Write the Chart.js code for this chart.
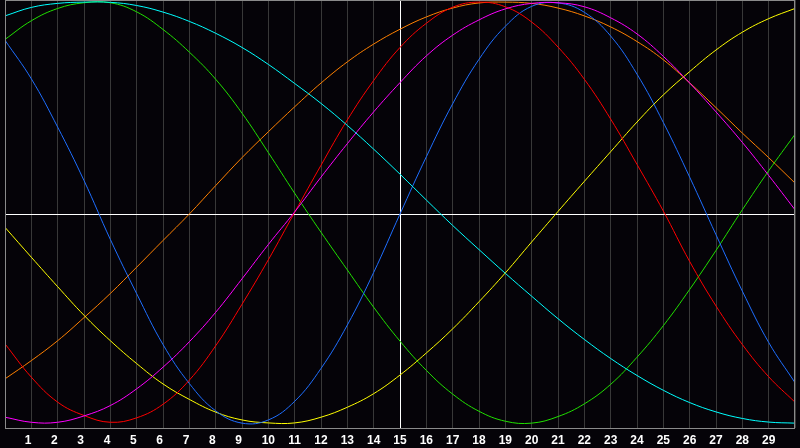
<!DOCTYPE html>
<html>
<head>
<meta charset="utf-8">
<script src="https://cdn.jsdelivr.net/npm/chart.js@4"></script>
<style>
    html, body { margin: 0; padding: 0; background: #050308; }
    #chart { display: block; }
</style>
</head>
<body>
<canvas id="chart" width="800" height="448"></canvas>
<script>
// ──────────────────────────────────────────────
// Данные (значения в %, день 0..30)
// ──────────────────────────────────────────────
const days = [0,1,2,3,4,5,6,7,8,9,10,11,12,13,14,15,16,17,18,19,20,21,22,23,24,25,26,27,28,29,30];

const physical     = [82.0, 63.8, 41.0, 15.8, -12.0, -37.6, -61.6, -80.0, -92.9, -98.7, -97.2, -88.4, -72.9, -52.4, -27.6, 0,
                      27.0, 52.0, 73.0, 88.6, 98.0, 99.6, 95.2, 84.0, 66.0, 43.2, 17.4, -9.8, -36.4, -60.6, -79.6];
const emotional    = [-61.3, -77.0, -88.8, -95.1, -98.3, -96.2, -89.8, -78.4, -62.2, -42.6, -21.6, 0.8, 23.0, 44.4, 63.0, 78.6,
                      90.0, 97.6, 100, 97.8, 90.6, 78.8, 63.6, 44.8, 23.4, 1.4, -22.4, -43.4, -61.6, -76.8, -88.8];
const intellectual = [82.4, 91.2, 97.0, 99.7, 99.7, 95.4, 87.1, 76.4, 63.6, 47.6, 29.0, 9.8, -8.6, -26.4, -44.0, -60.0,
                      -73.8, -85.0, -93.1, -97.8, -98.7, -95.6, -89.6, -80.4, -67.6, -52.7, -35.6, -17.2, 2.0, 20.4, 37.6];
const intuitive    = [-95.9, -98.3, -98.3, -95.3, -90.4, -82.5, -72.3, -60.3, -46.4, -30.6, -14.4, 1.0, 17.4, 33.2, 48.2, 62.0,
                      74.6, 84.4, 91.6, 96.8, 99.4, 99.7, 97.8, 92.6, 85.0, 74.4, 61.8, 48.2, 33.8, 18.2, 2.0];
const awareness    = [-77.8, -69.2, -59.8, -48.9, -37.5, -25.1, -12.5, 0, 13.4, 26.6, 38.8, 50.6, 61.8, 71.8, 80.2, 87.2,
                      93.0, 97.2, 99.6, 100, 99.4, 97.2, 93.5, 88.3, 81.4, 72.8, 61.9, 50.2, 38.2, 26.6, 14.6];
const aesthetic    = [-6.3, -20.4, -34.3, -47.8, -59.8, -70.6, -80.2, -87.5, -93.5, -97.2, -98.6, -98.6, -95.9, -91.2, -84.8, -76.0,
                      -65.6, -54.2, -41.4, -27.8, -13.2, 1.2, 15.4, 29.4, 43.4, 56.2, 67.2, 77.4, 85.8, 92.2, 97.0];
const spiritual    = [93.5, 97.5, 99.4, 100, 99.9, 98.4, 95.3, 90.9, 85.3, 78.6, 70.6, 61.6, 52.2, 41.8, 30.6, 18.8,
                      6.6, -5.4, -16.8, -28.0, -38.8, -49.4, -59.2, -68.2, -76.2, -83.2, -89.0, -93.4, -96.5, -98.2, -98.7];

const dayLabels = ['', '1','2','3','4','5','6','7','8','9','10','11','12','13','14','15',
                   '16','17','18','19','20','21','22','23','24','25','26','27','28','29', ''];

const seriesNames  = ['Духовный', 'Интуитивный', 'Эмоциональный', 'Физический', 'Эстетический', 'Интеллектуальный', 'Осознанность'];
const seriesData   = [spiritual, intuitive, emotional, physical, aesthetic, intellectual, awareness];
const seriesColors = ['#00ffff', '#ff00ff', '#ff0000', '#1e6eff', '#ffff00', '#20e000', '#ff8000'];

// ──────────────────────────────────────────────
// Фон и рамка
// ──────────────────────────────────────────────
const backdrop = {
    id: 'backdrop',
    beforeDraw(chart) {
        const c = chart.ctx;
        c.save();
        c.fillStyle = '#050308';
        c.fillRect(0, 0, chart.width, chart.height);
        c.restore();
    },
    afterDraw(chart) {
        const a = chart.chartArea, c = chart.ctx;
        c.save();
        c.strokeStyle = '#8a8a8a';
        c.lineWidth = 1;
        c.strokeRect(a.left + 0.5, a.top + 0.5, a.right - a.left - 1, a.bottom - a.top);
        c.restore();
    }
};

// подписи выровнены как в двухсимвольном поле (однозначные чуть левее)
function dayLabel(v) {
    const s = dayLabels[v] || '';
    return s.length === 1 ? s + '  ' : s;
}

// ──────────────────────────────────────────────
// График
// ──────────────────────────────────────────────
new Chart(document.getElementById('chart'), {
    type: 'line',
    data: {
        datasets: seriesData.map((d, i) => ({
            label: seriesNames[i],
            data: d.map((v, k) => ({ x: days[k], y: v })),
            borderColor: seriesColors[i],
            borderWidth: 1,
            pointRadius: 0,
            tension: 0.4,
            fill: false
        }))
    },
    options: {
        responsive: false,
        animation: false,
        layout: { padding: 0 },
        plugins: { legend: { display: false }, tooltip: { enabled: false } },
        scales: {
            x: {
                type: 'linear',
                min: 0, max: 30,
                afterFit: s => { s.height = 20; },
                border: { display: false },
                grid: {
                    color: c => c.tick && c.tick.value === 15 ? '#ffffff' : '#383838',
                    drawTicks: false
                },
                ticks: {
                    stepSize: 1,
                    autoSkip: false,
                    maxRotation: 0,
                    padding: 5,
                    color: '#ffffff',
                    font: { family: 'Liberation Sans', size: 12, weight: 'bold' },
                    callback: dayLabel
                }
            },
            y: {
                min: -101, max: 101,
                afterFit: s => { s.width = 0; },
                border: { display: false },
                grid: {
                    color: c => c.tick && c.tick.value === 0 ? '#ffffff' : 'rgba(0,0,0,0)',
                    drawTicks: false
                },
                ticks: { display: false, stepSize: 101 }
            }
        }
    },
    plugins: [backdrop]
});
</script>
</body>
</html>
